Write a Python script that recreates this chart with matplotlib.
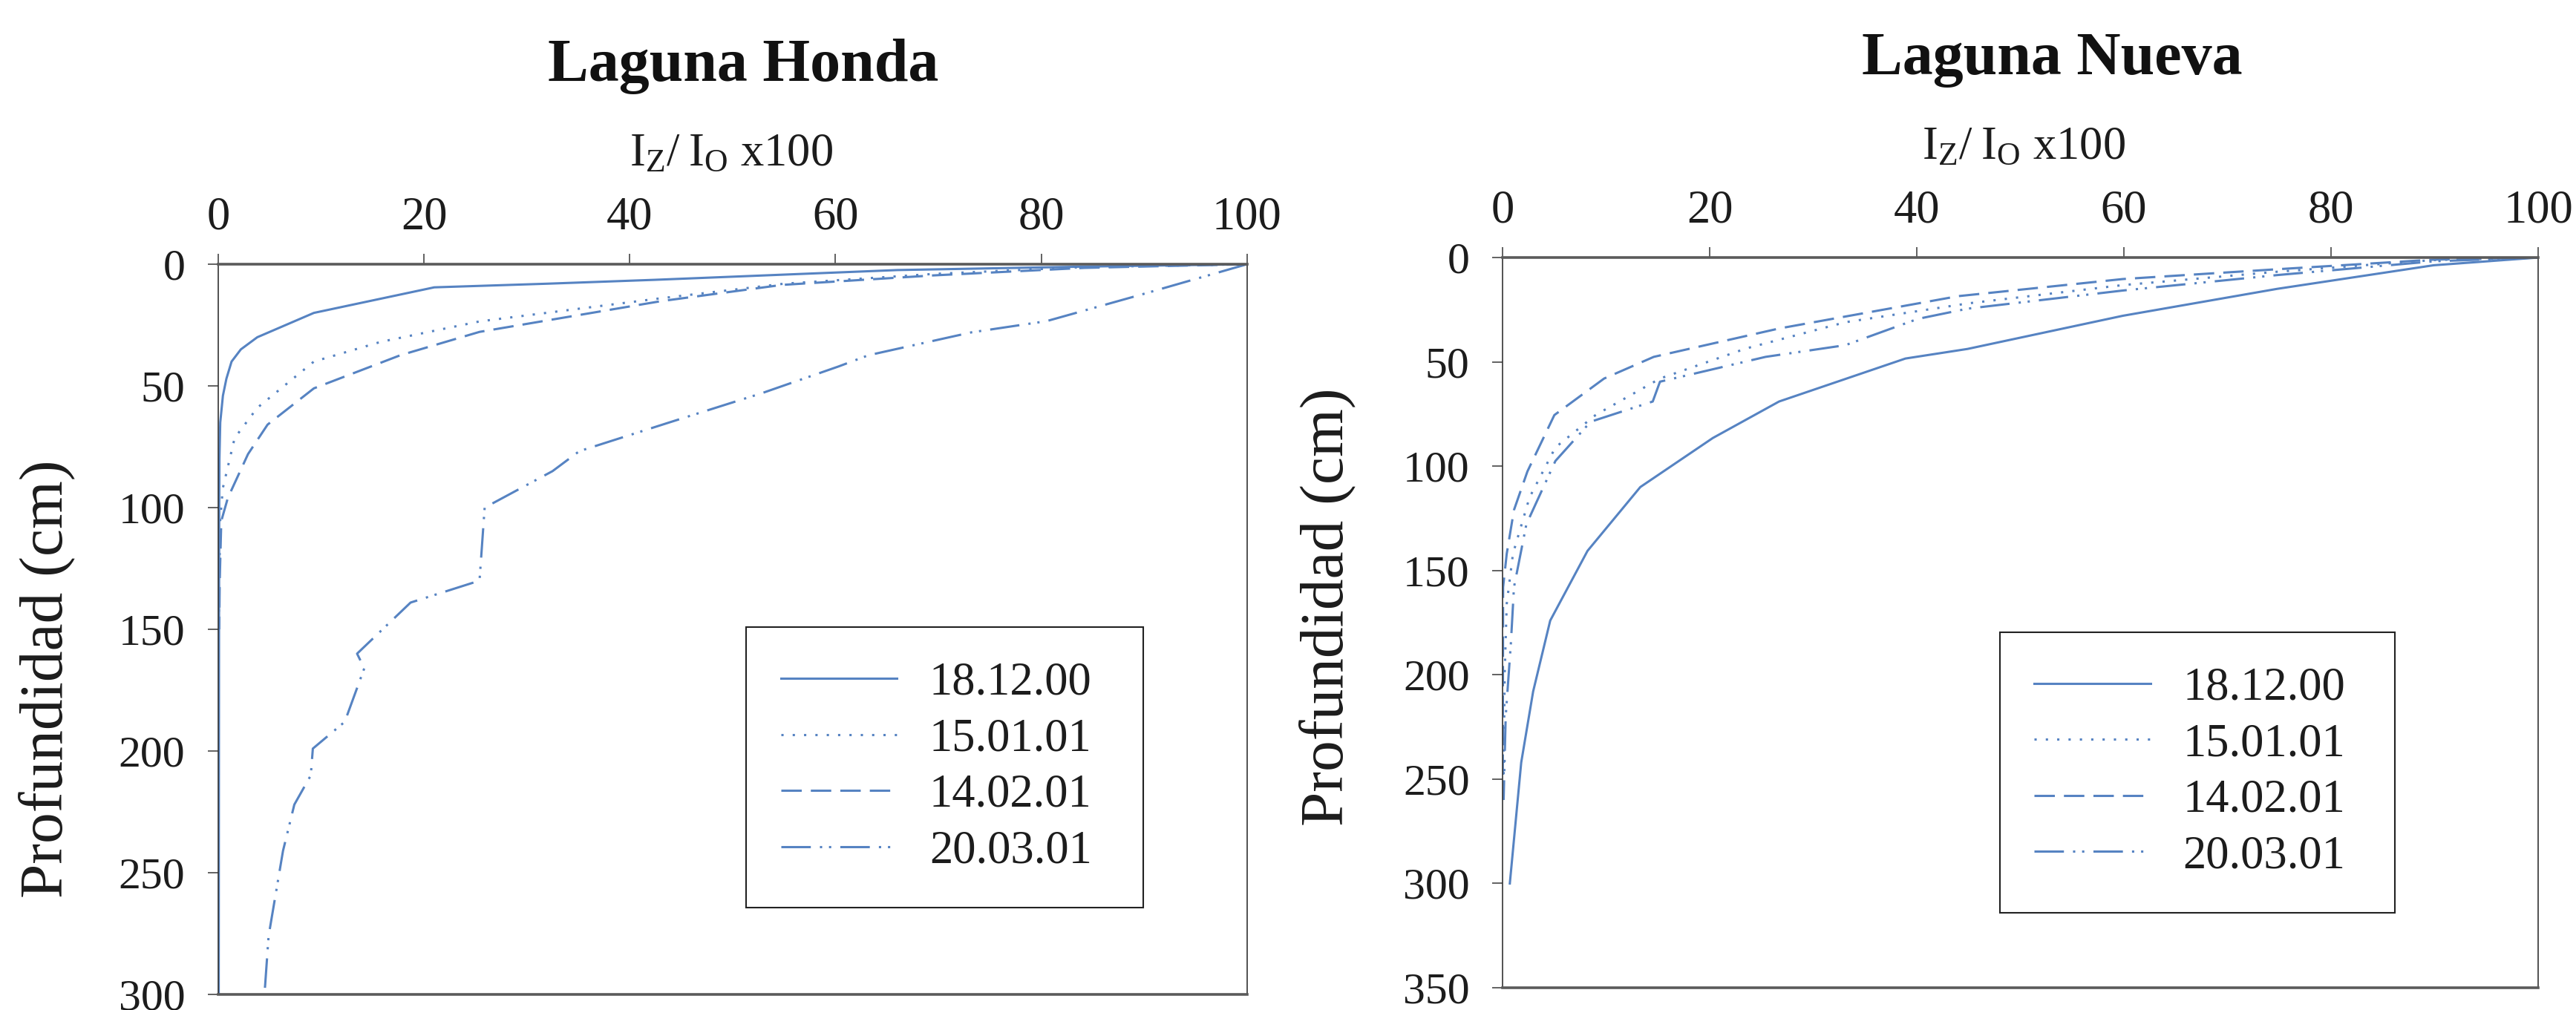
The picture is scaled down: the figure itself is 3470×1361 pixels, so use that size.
"""Light attenuation profiles for Laguna Honda and Laguna Nueva."""

import matplotlib

matplotlib.use("Agg")
import matplotlib.pyplot as plt

plt.rcParams["font.family"] = ["Liberation Serif", "DejaVu Serif"]
plt.rcParams["mathtext.fontset"] = "custom"
plt.rcParams["mathtext.rm"] = "Liberation Serif"
plt.rcParams["mathtext.it"] = "Liberation Serif:italic"

dates = ["18.12.00", "15.01.01", "14.02.01", "20.03.01"]

# Laguna Honda: depth (cm) and I_z/I_0 x100 per sampling date
honda_z_1812 = [0, 1, 2.4, 6.4, 8, 9.5, 20, 30, 35, 40, 47, 54, 65, 80, 100, 150, 200, 250, 300]
honda_i_1812 = [100, 84, 66, 42.5, 32, 21, 9.3, 3.8, 2.2, 1.3, 0.8, 0.46, 0.2, 0.12, 0.1, 0.08, 0.07, 0.06, 0.05]
honda_z_1501 = [0, 1.2, 4, 8, 14, 23.5, 31.9, 40, 59, 71.4, 92, 105, 130, 150]
honda_i_1501 = [100, 84, 69.5, 55, 43, 25.4, 15.8, 9.3, 3.8, 1.6, 0.45, 0.2, 0.1, 0.05]
honda_z_1402 = [0, 1.5, 4.6, 8.5, 15.2, 27.8, 37.4, 51, 65.9, 78, 96, 105.5, 130, 150]
honda_i_1402 = [100, 84.2, 69.5, 54.8, 43, 25.4, 17.7, 9.3, 4.8, 2.9, 0.94, 0.3, 0.15, 0.1]
honda_z_2003 = [0, 12.5, 23.4, 28, 37.4, 42, 52.9, 65.2, 76.8, 85, 100, 130, 139, 160, 166, 188, 199, 210, 222, 241, 276, 300]
honda_i_2003 = [100, 89.7, 80.5, 73.2, 63.2, 60.3, 52.9, 43.7, 35.1, 32.5, 25.9, 25.4, 18.7, 13.5, 14.2, 12.3, 9.2, 9.0, 7.4, 6.3, 4.9, 4.5]

# Laguna Nueva
nueva_z_1812 = [0, 3.7, 15, 27.9, 43.8, 48.4, 69, 86.5, 110, 140.6, 174, 208, 242, 300]
nueva_i_1812 = [100, 89.9, 74.8, 59.9, 44.9, 38.9, 26.7, 20.3, 13.3, 8.2, 4.6, 2.95, 1.8, 0.7]
nueva_z_1501 = [0, 1.2, 6.8, 13.2, 22, 31, 43.6, 58, 75.4, 91, 115, 142, 166, 200, 250]
nueva_i_1501 = [100, 89.9, 74.8, 59.9, 44.9, 33.1, 23.5, 15.2, 9, 5.1, 2.6, 1.0, 0.4, 0.2, 0.1]
nueva_z_1402 = [0, 1, 5.6, 10.3, 18.5, 34, 47.6, 58, 75.5, 102.5, 121, 142, 158, 250]
nueva_i_1402 = [100, 89.9, 74.8, 59.9, 44, 26.7, 14.6, 9.8, 5, 2.4, 1.1, 0.4, 0.05, 0.02]
nueva_z_2003 = [0, 1.8, 8.4, 15.8, 24.5, 29.4, 42, 47.6, 59.5, 69, 78.7, 97.5, 127.8, 158, 185, 220, 260]
nueva_i_2003 = [100, 89.9, 74.8, 59.9, 44.9, 40.1, 33.1, 25.4, 15.2, 14.5, 8.5, 5.1, 2.3, 1.1, 0.8, 0.3, 0.1]

x_ticks = [0, 20, 40, 60, 80, 100]

LINE_COLOR = "#5683c2"
AXIS_COLOR = "#474747"
TEXT_COLOR = "#1c1c1c"
LINE_STYLES = ["-", (0, (1, 4)), (0, (9, 4)), (0, (13, 4, 1, 3, 1, 4))]


def draw_panel(ax, series, depth_max, legend_box):
    for (z, i), label, style in zip(series, dates, LINE_STYLES):
        ax.plot(i, z, color=LINE_COLOR, linestyle=style, linewidth=2.2, label=label)

    ax.set_xlim(0, 100)
    ax.set_ylim(depth_max, 0)
    ax.set_xticks(x_ticks)
    ax.set_yticks(range(0, depth_max + 1, 50))
    ax.xaxis.tick_top()

    for side in ("top", "bottom"):
        ax.spines[side].set_linewidth(2.6)
        ax.spines[side].set_color("#5a5a5a")
    for side in ("left", "right"):
        ax.spines[side].set_linewidth(1.2)
        ax.spines[side].set_color("#333333")

    ax.tick_params(axis="x", direction="out", length=10, width=1.2, pad=14,
                   labelsize=45, colors=AXIS_COLOR, labelcolor=TEXT_COLOR)
    ax.tick_params(axis="y", direction="out", length=10, width=1.2, pad=22,
                   labelsize=43, colors=AXIS_COLOR, labelcolor=TEXT_COLOR)

    # legend_box is (x0, y0, width, height) in axes fraction; the legend hangs from its top
    legend = ax.legend(loc="upper left", bbox_to_anchor=legend_box, mode="expand",
                       fontsize=45, frameon=True, fancybox=False, framealpha=1,
                       edgecolor="#222222", borderpad=0.75, labelspacing=0.28,
                       handlelength=2.5, handletextpad=0.7, borderaxespad=0)
    legend.get_frame().set_linewidth(1.5)
    for text in legend.get_texts():
        text.set_color(TEXT_COLOR)


fig = plt.figure(figsize=(34.70, 13.61), dpi=100, facecolor="white")

ax_honda = fig.add_axes([0.0847, 0.0154, 0.3994, 0.7230])
ax_nueva = fig.add_axes([0.5833, 0.0220, 0.4020, 0.7230])

draw_panel(
    ax_honda,
    [(honda_z_1812, honda_i_1812), (honda_z_1501, honda_i_1501),
     (honda_z_1402, honda_i_1402), (honda_z_2003, honda_i_2003)],
    300,
    (0.513, 0.124, 0.386, 0.379),
)
draw_panel(
    ax_nueva,
    [(nueva_z_1812, nueva_i_1812), (nueva_z_1501, nueva_i_1501),
     (nueva_z_1402, nueva_i_1402), (nueva_z_2003, nueva_i_2003)],
    350,
    (0.48, 0.109, 0.382, 0.378),
)

x_label = r"$\mathrm{I_Z/\;I_O}$ x100"
fig.text(0.2885, 0.9199, "Laguna Honda", ha="center", va="baseline",
         fontsize=59, fontweight="bold", color="#111111")
fig.text(0.7965, 0.9265, "Laguna Nueva", ha="center", va="baseline",
         fontsize=59, fontweight="bold", color="#111111")
fig.text(0.2839, 0.8361, x_label, ha="center", va="baseline", fontsize=45, color=TEXT_COLOR)
fig.text(0.7856, 0.8428, x_label, ha="center", va="baseline", fontsize=45, color=TEXT_COLOR)
fig.text(0.0182, 0.3277, "Profundidad (cm)", rotation=90, ha="center", va="center",
         fontsize=60, color=TEXT_COLOR)
fig.text(0.5153, 0.3990, "Profundidad (cm)", rotation=90, ha="center", va="center",
         fontsize=60, color=TEXT_COLOR)

fig.savefig("out.png", dpi=100, facecolor="white")
